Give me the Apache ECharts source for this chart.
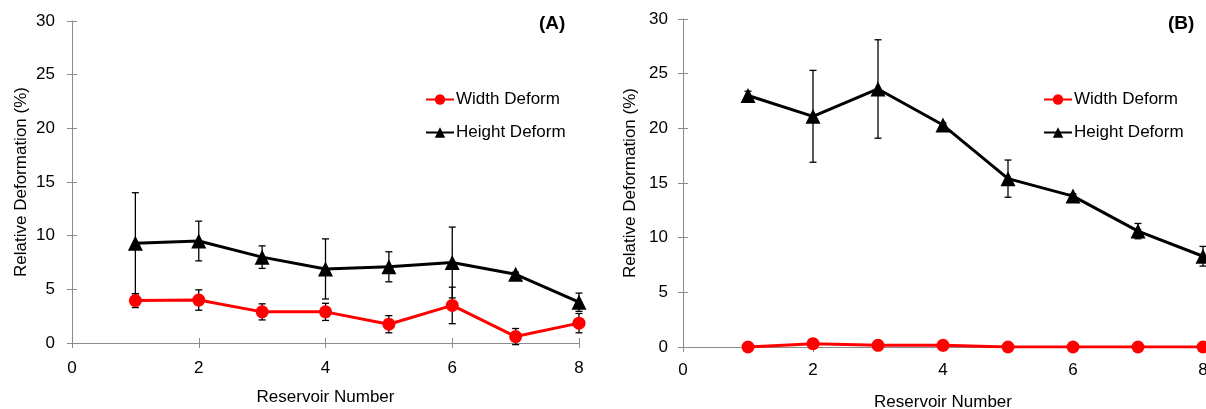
<!DOCTYPE html>
<html>
<head>
<meta charset="utf-8">
<script src="https://cdn.jsdelivr.net/npm/echarts@6/dist/echarts.min.js"></script>
<style>
html, body { margin: 0; background: #fff; }
#chart { width: 1206px; height: 409px; }
</style>
</head>
<body>
<div id="chart"></div>
<script>
// reservoir numbers on the x axis
var reservoirs = [1, 2, 3, 4, 5, 6, 7, 8];

// panel (A)
var widthA = [3.95, 4.0, 2.9, 2.9, 1.75, 3.5, 0.6, 1.85];
var widthErrA = [0.65, 0.95, 0.75, 0.8, 0.8, 1.7, 0.75, 0.9];
var heightA = [9.3, 9.5, 8.0, 6.9, 7.1, 7.5, 6.4, 3.8];
var heightErrA = [4.7, 1.85, 1.05, 2.8, 1.4, 3.3, 0.2, 0.85];

// panel (B)
var widthB = [0, 0.3, 0.15, 0.15, 0, 0, 0, 0];
var widthErrB = [0, 0, 0, 0, 0, 0, 0, 0];
var heightB = [23.0, 21.1, 23.6, 20.3, 15.4, 13.8, 10.6, 8.3];
var heightErrB = [0.4, 4.2, 4.5, 0.2, 1.7, 0.2, 0.7, 0.9];

// tick labels
var xTicks = [0, 2, 4, 6, 8];
var yTicks = [0, 5, 10, 15, 20, 25, 30];

var FONT = 'Liberation Sans, Arial, sans-serif';
var FS = 17;
var AXIS_GREY = '#8c8c8c';

function pairs(vals) {
  return reservoirs.map(function (x, i) { return [x, vals[i]]; });
}
function bars(vals, errs) {
  return reservoirs.map(function (x, i) { return [x, vals[i] - errs[i], vals[i] + errs[i]]; });
}

// error bar drawn through the axis scales
function errorBar(params, api) {
  var x = api.value(0);
  var top = api.coord([x, api.value(2)]);
  var bot = api.coord([x, api.value(1)]);
  var w = 3.5;
  var st = { stroke: '#000', lineWidth: 1.3 };
  return {
    type: 'group',
    children: [
      { type: 'line', shape: { x1: top[0], y1: top[1], x2: bot[0], y2: bot[1] }, style: st },
      { type: 'line', shape: { x1: top[0] - w, y1: top[1], x2: top[0] + w, y2: top[1] }, style: st },
      { type: 'line', shape: { x1: bot[0] - w, y1: bot[1], x2: bot[0] + w, y2: bot[1] }, style: st }
    ]
  };
}

var xMin = xTicks[0], xMax = xTicks[xTicks.length - 1], xStep = xTicks[1] - xTicks[0];
var yMin = yTicks[0], yMax = yTicks[yTicks.length - 1], yStep = yTicks[1] - yTicks[0];

function xAxisPair(grid, labelMargin, nameGap) {
  return [{
    type: 'value', gridIndex: grid, position: 'bottom', min: xMin, max: xMax, interval: xStep,
    name: 'Reservoir Number', nameLocation: 'middle', nameGap: nameGap,
    nameTextStyle: { fontFamily: FONT, fontSize: FS, color: '#000' },
    axisLine: { lineStyle: { color: AXIS_GREY, width: 1 } },
    axisTick: { length: 5, lineStyle: { color: AXIS_GREY } },
    axisLabel: { margin: labelMargin, fontFamily: FONT, fontSize: FS, color: '#000' },
    splitLine: { show: false }
  }, {
    type: 'value', gridIndex: grid, position: 'bottom', min: xMin, max: xMax, interval: xStep,
    axisLine: { show: false },
    axisTick: { inside: true, length: 5, lineStyle: { color: AXIS_GREY } },
    axisLabel: { show: false },
    splitLine: { show: false }
  }];
}

function yAxisPair(grid, labelMargin, nameGap) {
  return [{
    type: 'value', gridIndex: grid, position: 'left', min: yMin, max: yMax, interval: yStep,
    name: 'Relative Deformation (%)', nameLocation: 'middle', nameGap: nameGap,
    nameTextStyle: { fontFamily: FONT, fontSize: FS, color: '#000' },
    axisLine: { show: true, lineStyle: { color: AXIS_GREY, width: 1 } },
    axisTick: { show: true, length: 5, lineStyle: { color: AXIS_GREY } },
    axisLabel: { margin: labelMargin, fontFamily: FONT, fontSize: FS, color: '#000' },
    splitLine: { show: false }
  }, {
    type: 'value', gridIndex: grid, position: 'left', min: yMin, max: yMax, interval: yStep,
    axisLine: { show: false },
    axisTick: { show: true, inside: true, length: 5, lineStyle: { color: AXIS_GREY } },
    axisLabel: { show: false },
    splitLine: { show: false }
  }];
}

function lineSeries(name, vals, color, symbol, size, xi, yi) {
  return {
    type: 'line', name: name, xAxisIndex: xi, yAxisIndex: yi,
    data: pairs(vals), symbol: symbol, symbolSize: size, z: 3,
    lineStyle: { color: color, width: 3 },
    itemStyle: { color: color },
    animation: false
  };
}

function errSeries(vals, errs, xi, yi) {
  return {
    type: 'custom', xAxisIndex: xi, yAxisIndex: yi, z: 2,
    renderItem: errorBar, data: bars(vals, errs),
    encode: { x: 0, y: [1, 2] }, animation: false
  };
}

function legendAt(left) {
  return {
    left: left, top: 91, orient: 'vertical', padding: 0,
    itemWidth: 28, itemHeight: 13, itemGap: 16,
    textStyle: { fontFamily: FONT, fontSize: FS, color: '#000', padding: [0, 0, 0, -3] },
    data: ['Width Deform', 'Height Deform']
  };
}

var chart = echarts.init(document.getElementById('chart'), null, { renderer: 'canvas' });
chart.setOption({
  backgroundColor: '#fff',
  animation: false,
  title: [
    { text: '(A)', left: 539, top: 14, padding: 0, textStyle: { fontFamily: FONT, fontSize: 19, fontWeight: 'bold', color: '#000' } },
    { text: '(B)', left: 1168, top: 14, padding: 0, textStyle: { fontFamily: FONT, fontSize: 19, fontWeight: 'bold', color: '#000' } }
  ],
  legend: [legendAt(425), legendAt(1043)],
  grid: [
    { left: 72, top: 21, width: 507, height: 322, containLabel: false, outerBoundsMode: 'none' },
    { left: 683, top: 19, width: 520, height: 328, containLabel: false, outerBoundsMode: 'none' }
  ],
  xAxis: xAxisPair(0, 17, 46).concat(xAxisPair(1, 15, 47)),
  yAxis: yAxisPair(0, 17, 42).concat(yAxisPair(1, 15, 44)),
  series: [
    errSeries(widthA, widthErrA, 0, 0),
    errSeries(heightA, heightErrA, 0, 0),
    lineSeries('Width Deform', widthA, '#ff0000', 'circle', 13, 0, 0),
    lineSeries('Height Deform', heightA, '#000000', 'triangle', 15, 0, 0),
    errSeries(widthB, widthErrB, 2, 2),
    errSeries(heightB, heightErrB, 2, 2),
    lineSeries('Width Deform', widthB, '#ff0000', 'circle', 13, 2, 2),
    lineSeries('Height Deform', heightB, '#000000', 'triangle', 15, 2, 2)
  ]
});
</script>
</body>
</html>
